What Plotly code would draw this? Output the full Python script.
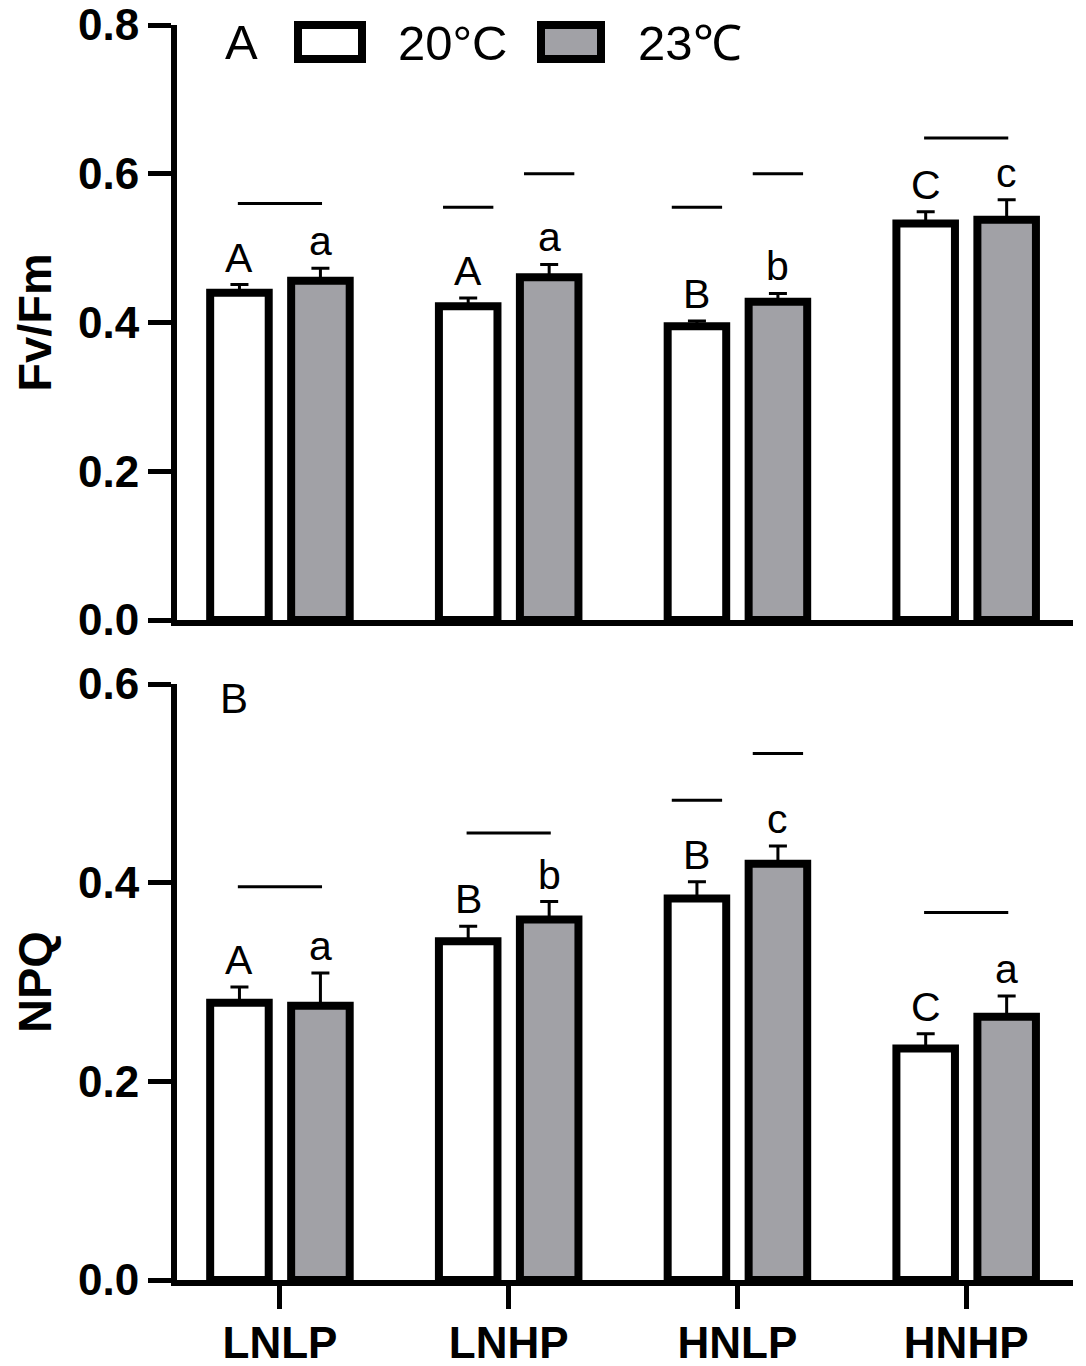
import plotly.graph_objects as go

categories = ["LNLP", "LNHP", "HNLP", "HNHP"]
series_names = ["20°C", "23℃"]

fvfm_20 = [0.440, 0.422, 0.395, 0.533]
fvfm_20_err = [0.011, 0.011, 0.007, 0.016]
fvfm_23 = [0.456, 0.461, 0.428, 0.538]
fvfm_23_err = [0.017, 0.017, 0.011, 0.027]
fvfm_20_letters = ["A", "A", "B", "C"]
fvfm_23_letters = ["a", "a", "b", "c"]

npq_20 = [0.279, 0.341, 0.384, 0.233]
npq_20_err = [0.016, 0.015, 0.017, 0.015]
npq_23 = [0.276, 0.363, 0.419, 0.265]
npq_23_err = [0.033, 0.018, 0.018, 0.021]
npq_20_letters = ["A", "B", "B", "C"]
npq_23_letters = ["a", "b", "c", "a"]

# significance lines: (category index, which bars: "both"/"20"/"23", y value)
fvfm_sig_group = [0, 1, 1, 2, 2, 3]
fvfm_sig_span = ["both", "20", "23", "20", "23", "both"]
fvfm_sig_y = [0.560, 0.555, 0.600, 0.555, 0.600, 0.648]

npq_sig_group = [0, 1, 2, 2, 3]
npq_sig_span = ["both", "both", "20", "23", "both"]
npq_sig_y = [0.396, 0.450, 0.483, 0.530, 0.370]

GRAY = "#a1a1a6"
FONT = "Liberation Sans, Arial, sans-serif"
BARGAP = 0.292
BARGROUPGAP = 0.277
slot = (1 - BARGAP) / 2
bar_off = slot / 2

xpos = list(range(len(categories)))

fig = go.Figure()

def add_panel(v20, e20, v23, e23, xa, ya):
    for vals, errs, color, name in [(v20, e20, "white", series_names[0]),
                                    (v23, e23, GRAY, series_names[1])]:
        fig.add_trace(go.Bar(
            x=xpos, y=vals, name=name, xaxis=xa, yaxis=ya,
            marker=dict(color=color, line=dict(color="black", width=8)),
            error_y=dict(type="data", symmetric=False, array=errs,
                         arrayminus=[0] * len(errs), color="black",
                         thickness=3, width=9),
            showlegend=False,
        ))

add_panel(fvfm_20, fvfm_20_err, fvfm_23, fvfm_23_err, "x", "y")
add_panel(npq_20, npq_20_err, npq_23, npq_23_err, "x2", "y2")

def sig_trace(groups, spans, ys, xa, ya):
    xs, yy = [], []
    for g, s, y in zip(groups, spans, ys):
        if s == "both":
            c, hw = g, 0.184
        elif s == "20":
            c, hw = g - bar_off, 0.11
        else:
            c, hw = g + bar_off, 0.11
        xs += [c - hw, c + hw, None]
        yy += [y, y, None]
    fig.add_trace(go.Scatter(x=xs, y=yy, mode="lines", xaxis=xa, yaxis=ya,
                             line=dict(color="black", width=3),
                             showlegend=False, hoverinfo="skip"))

sig_trace(fvfm_sig_group, fvfm_sig_span, fvfm_sig_y, "x", "y")
sig_trace(npq_sig_group, npq_sig_span, npq_sig_y, "x2", "y2")

annotations = []
def letters(v20, e20, l20, v23, e23, l23, xr, yr):
    for i in xpos:
        for off, v, e, t in [(-bar_off, v20[i], e20[i], l20[i]),
                             (bar_off, v23[i], e23[i], l23[i])]:
            annotations.append(dict(x=i + off, y=v + e, xref=xr, yref=yr,
                                    text=t, showarrow=False, yanchor="bottom",
                                    yshift=2, font=dict(family=FONT, size=41, color="black")))

letters(fvfm_20, fvfm_20_err, fvfm_20_letters, fvfm_23, fvfm_23_err, fvfm_23_letters, "x", "y")
letters(npq_20, npq_20_err, npq_20_letters, npq_23, npq_23_err, npq_23_letters, "x2", "y2")

# page has an 8px body margin; figure is sized to fit the window
PAGE_OFF = 8
FIG_W, FIG_H = 1086 - PAGE_OFF, 1366 - PAGE_OFF
ML, MR, MT, MB = 169, 13, 17, 86
W, H0 = FIG_W - ML - MR, FIG_H - MT - MB
def px_x(px):
    return (px - PAGE_OFF - ML) / W
def px_y(py):
    return 1 - (py - PAGE_OFF - MT) / H0

annotations.append(dict(x=px_x(241), y=px_y(42), xref="paper", yref="paper", text="A",
                        showarrow=False, xanchor="center", yanchor="middle",
                        font=dict(family=FONT, size=49, color="black")))
annotations.append(dict(x=px_x(234), y=px_y(698), xref="paper", yref="paper", text="B",
                        showarrow=False, xanchor="center", yanchor="middle",
                        font=dict(family=FONT, size=42, color="black")))

shapes = []
for (x0, x1, fill) in [(298, 362, "white"), (541, 601, GRAY)]:
    shapes.append(dict(type="rect", xref="paper", yref="paper",
                       x0=px_x(x0), x1=px_x(x1), y0=px_y(59), y1=px_y(25),
                       fillcolor=fill, line=dict(color="black", width=8)))
for (xl, txt) in [(396, series_names[0]), (636, series_names[1])]:
    annotations.append(dict(x=px_x(xl), y=px_y(43), xref="paper", yref="paper",
                            text=txt, showarrow=False, xanchor="left", yanchor="middle",
                            font=dict(family=FONT, size=49, color="black")))

tickfont = dict(family=FONT, size=44, color="black", weight="bold")
xrange = [-0.450, 3.467]
axis_common = dict(showline=True, linewidth=6, linecolor="black", showgrid=False,
                   zeroline=False, automargin=False)
ytitle_font = dict(family=FONT, size=47, color="black", weight="bold")

fig.update_layout(
    width=FIG_W, height=FIG_H,
    margin=dict(l=ML, r=MR, t=MT, b=MB, autoexpand=False),
    plot_bgcolor="white", paper_bgcolor="white",
    barmode="group", bargap=BARGAP, bargroupgap=BARGROUPGAP,
    showlegend=False,
    annotations=annotations, shapes=shapes,
    xaxis=dict(domain=[0, 1], anchor="y", range=xrange, showticklabels=False,
               ticks="", **axis_common),
    yaxis=dict(domain=[1 - (620 - PAGE_OFF - MT) / H0, 1], anchor="x", range=[0, 0.8],
               dtick=0.2, tickformat=".1f", ticks="outside", ticklen=23, tickwidth=5,
               tickcolor="black", tickfont=tickfont, ticklabelstandoff=0,
               ticklabeloverflow="allow",
               title=dict(text="Fv/Fm", standoff=36, font=ytitle_font),
               **axis_common),
    xaxis2=dict(domain=[0, 1], anchor="y2", range=xrange, tickvals=xpos,
                ticktext=categories, ticks="outside", ticklen=23, tickwidth=5,
                tickcolor="black", tickfont=tickfont, ticklabelstandoff=-4,
                ticklabeloverflow="allow", **axis_common),
    yaxis2=dict(domain=[0, 1 - (684 - PAGE_OFF - MT) / H0], anchor="x2", range=[0, 0.6],
                dtick=0.2, tickformat=".1f", ticks="outside", ticklen=23, tickwidth=5,
                tickcolor="black", tickfont=tickfont, ticklabelstandoff=0,
                ticklabeloverflow="allow",
                title=dict(text="NPQ", standoff=36, font=ytitle_font),
                **axis_common),
)

fig.write_html("out.html")
